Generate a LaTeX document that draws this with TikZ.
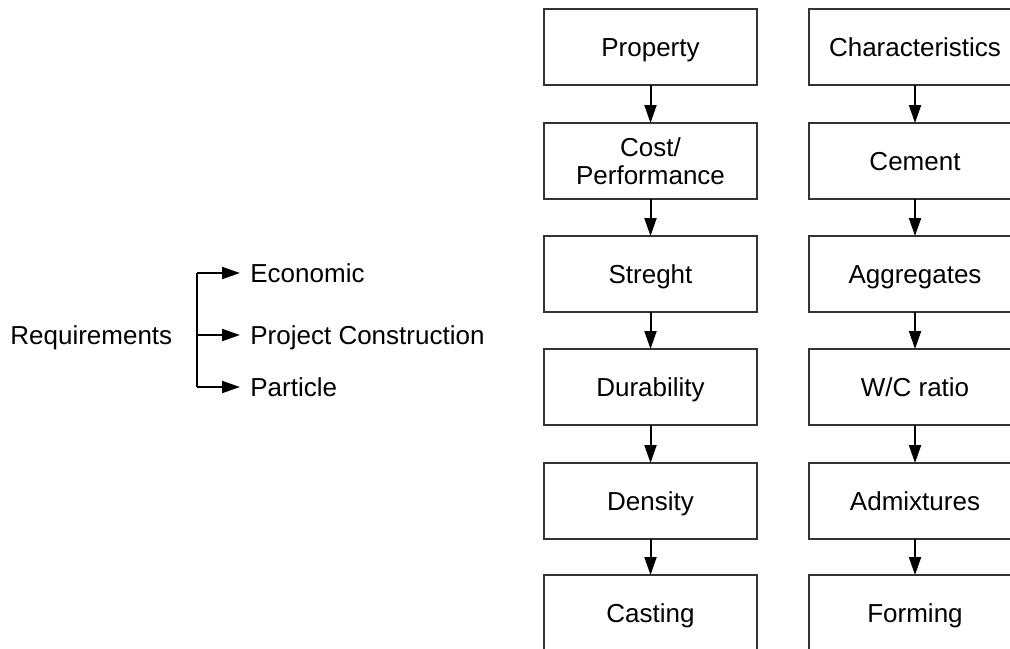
\documentclass[tikz,border=0pt]{standalone}
\usepackage{fontspec}
\setmainfont{Liberation Sans}
\usetikzlibrary{arrows.meta}

\begin{document}
\begin{tikzpicture}[x=0.5pt, y=-0.5pt, >={Triangle[length=9pt,width=6pt]},
        frame/.style={draw=black!80, line width=1pt, minimum width=106.5pt,
            minimum height=38pt, inner sep=0pt, outer sep=0pt, align=center,
            font=\fontsize{13}{14}\selectfont},
        box/.style={frame, text height=12.2pt, text depth=2.8pt},
        lbl/.style={inner xsep=5pt, inner ysep=0pt, anchor=west,
            text height=12.2pt, text depth=2.8pt,
            font=\fontsize{13}{14}\selectfont},
        link/.style={->, line width=1pt}]
        \useasboundingbox (0,0) rectangle (1010,648);
        \clip (0,0) rectangle (1010,648);
        % ==== REQUIREMENTS ====
        \node[lbl] (req) at (0,335) {Requirements};
        \node[lbl] (eco) at (240,273) {Economic};
        \node[lbl] (proj) at (240,335) {Project Construction};
        \node[lbl] (part) at (240,387) {Particle};
        \coordinate (fork) at (197,335);
        \draw[line width=1pt] (fork |- eco) -- (fork |- part);
        \draw[link] (fork |- eco) -- (eco);
        \draw[link] (fork) -- (proj);
        \draw[link] (fork |- part) -- (part);

        % ==== PROPERTY COLUMN ====
        \node[box] (prop) at (650.5,47) {Property};
        \node[frame] (cost) at (650.5,161) {Cost/\\Performance};
        \node[box] (str) at (650.5,274) {Streght};
        \node[box] (dur) at (650.5,387) {Durability};
        \node[box] (den) at (650.5,501) {Density};
        \node[box] (cast) at (650.5,613) {Casting};
        \draw[link] (prop) -- (cost);
        \draw[link] (cost) -- (str);
        \draw[link] (str) -- (dur);
        \draw[link] (dur) -- (den);
        \draw[link] (den) -- (cast);

        % ==== CHARACTERISTICS COLUMN ====
        \node[box] (char) at (915,47) {Characteristics};
        \node[box] (cem) at (915,161) {Cement};
        \node[box] (agg) at (915,274) {Aggregates};
        \node[box] (wc) at (915,387) {W/C ratio};
        \node[box] (adm) at (915,501) {Admixtures};
        \node[box] (form) at (915,613) {Forming};
        \draw[link] (char) -- (cem);
        \draw[link] (cem) -- (agg);
        \draw[link] (agg) -- (wc);
        \draw[link] (wc) -- (adm);
        \draw[link] (adm) -- (form);
\end{tikzpicture}
\end{document}
